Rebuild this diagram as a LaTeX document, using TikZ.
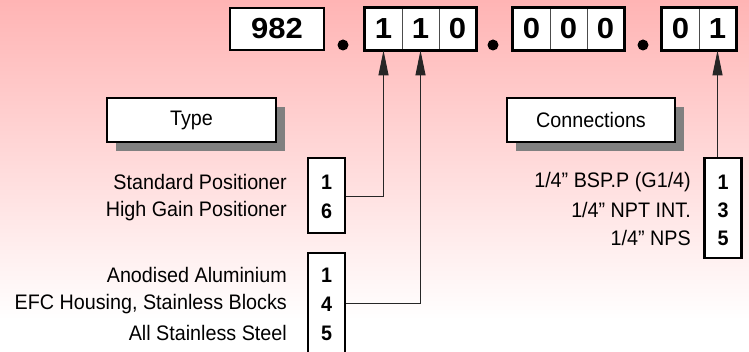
\documentclass[tikz,border=0pt]{standalone}
\usepackage{fontspec}
\setmainfont[FakeStretch=0.94]{Liberation Sans}
\newfontfamily\codefont[FakeStretch=1.07]{Liberation Sans}
\usetikzlibrary{shadows,arrows.meta}
\definecolor{bgpink}{RGB}{255,180,180}
\definecolor{shadowgray}{RGB}{128,128,128}
\tikzset{
  codebox/.style={draw=black, line width=2.5pt, fill=white, minimum height=42pt, inner sep=0pt, font=\codefont\fontsize{29}{31}\selectfont\bfseries},
  codecell/.style={draw=black!70, line width=0.8pt, fill=white, minimum width=37pt, minimum height=42pt, inner sep=0pt, font=\codefont\fontsize{29}{31}\selectfont\bfseries},
  outerline/.style={draw=black, line width=2.5pt},
  labelbox/.style={draw=black, line width=1.5pt, fill=white, minimum height=44pt, inner sep=0pt, font=\fontsize{21}{23}\selectfont,
     drop shadow={shadow xshift=9pt, shadow yshift=-9pt, fill=shadowgray, opacity=1}},
  optbox/.style={draw=black, line width=2.5pt, fill=white, minimum width=37pt, inner sep=0pt},
  opttext/.style={anchor=east, inner sep=0pt, font=\fontsize{21}{23}\selectfont},
  optdigit/.style={inner sep=0pt, font=\fontsize{21}{23}\selectfont\bfseries},
  arrowline/.style={draw=black!85, line width=1pt, -{Triangle[length=25pt,width=10pt]}},
  dotmark/.style={circle, fill=black, inner sep=0pt, minimum size=11pt}
}
\begin{document}
\begin{tikzpicture}[x=1pt,y=-1pt]
\useasboundingbox (0,0) rectangle (749,352);
% background
\shade[top color=bgpink, bottom color=white] (0,0) rectangle (749,320);
\fill[white] (0,320) rectangle (749,352);

% code boxes
\node[codebox, minimum width=94pt] (n982) at (277,29) {982};
\node[dotmark] (d1) at (343,45) {};
\node[codecell] (a1) at (383.5,29) {1};
\node[codecell] (a2) at (420.5,29) {1};
\node[codecell] (a3) at (457.5,29) {0};
\draw[outerline] (a1.north west) rectangle (a3.south east);
\node[dotmark] (d2) at (493,45) {};
\node[codecell] (b1) at (531.5,29) {0};
\node[codecell] (b2) at (568.5,29) {0};
\node[codecell] (b3) at (605.5,29) {0};
\draw[outerline] (b1.north west) rectangle (b3.south east);
\node[dotmark] (d3) at (643,45) {};
\node[codecell] (e1) at (680.5,29) {0};
\node[codecell] (e2) at (717.5,29) {1};
\draw[outerline] (e1.north west) rectangle (e2.south east);

% label boxes
\node[labelbox, minimum width=169pt] (type) at (191.5,120) {Type};
\node[labelbox, minimum width=168pt] (conn) at (591,120) {Connections};

% type options
\node[optbox, minimum height=75pt] (tbox) at (326.5,195.5) {};
\node[optdigit] (t1) at (tbox.center |- 0,182) {1};
\node[optdigit] (t6) at (tbox.center |- 0,211) {6};
\node[opttext] (tt1) at (287,182) {Standard Positioner};
\node[opttext] (tt6) at (287,211) {High Gain Positioner};

% material options
\node[optbox, minimum height=110pt] (mbox) at (326.5,308) {};
\node[optdigit] (m1) at (mbox.center |- 0,275) {1};
\node[optdigit] (m4) at (mbox.center |- 0,304) {4};
\node[optdigit] (m5) at (mbox.center |- 0,333) {5};
\node[opttext] (mt1) at (287,275) {Anodised Aluminium};
\node[opttext] (mt4) at (287,304) {EFC Housing, Stainless Blocks};
\node[opttext] (mt5) at (287,333) {All Stainless Steel};

% connection options
\node[optbox, minimum height=100pt] (cbox) at (723,208) {};
\node[optdigit] (c1) at (cbox.center |- 0,182) {1};
\node[optdigit] (c3) at (cbox.center |- 0,210) {3};
\node[optdigit] (c5) at (cbox.center |- 0,238) {5};
\node[opttext] (ct1) at (691,182) {1/4” BSP.P (G1/4)};
\node[opttext] (ct3) at (691,210) {1/4” NPT INT.};
\node[opttext] (ct5) at (691,238) {1/4” NPS};

% connectors
\draw[arrowline] (tbox.east |- 0,197) -| (a1.south);
\draw[arrowline] (mbox.east |- 0,304) -| (a2.south);
\draw[arrowline] (cbox.north -| e2.south) -- (e2.south);
\end{tikzpicture}
\end{document}
